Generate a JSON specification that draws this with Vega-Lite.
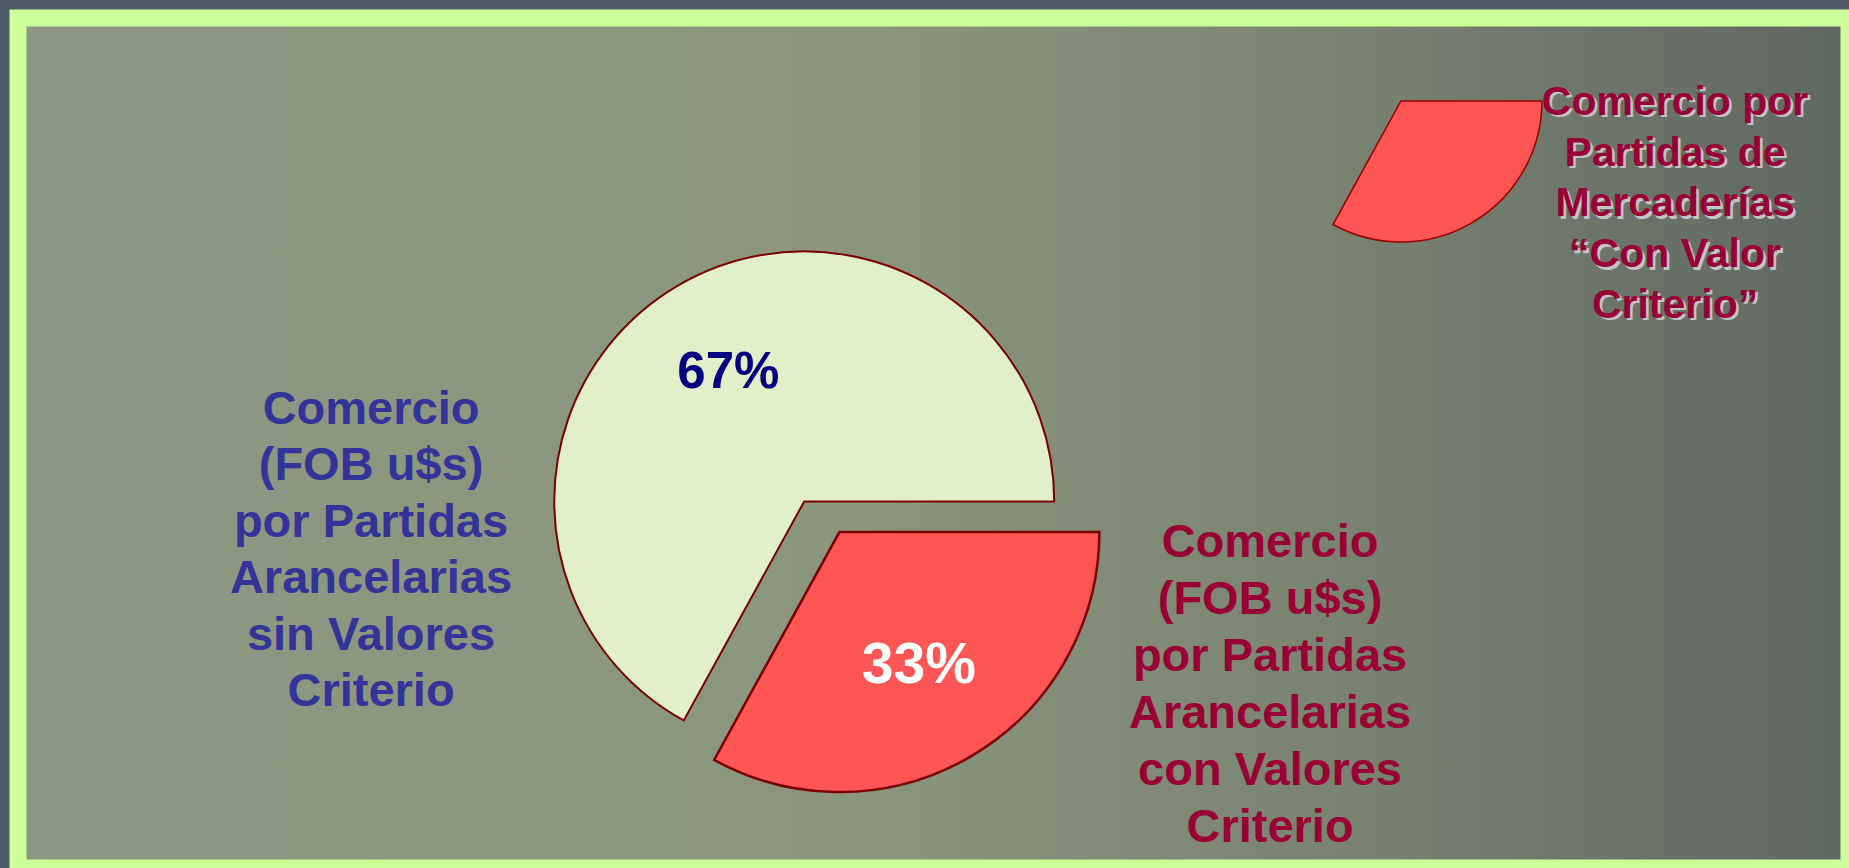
{
  "$schema": "https://vega.github.io/schema/vega-lite/v6.json",
  "width": 1831,
  "height": 850,
  "autosize": {"type": "none"},
  "padding": {"left": 18, "top": 18, "right": 0, "bottom": 0},
  "background": "#4d5c68",
  "config": {
    "view": {
      "fill": {"gradient": "linear", "x1": 0, "y1": 0, "x2": 1, "y2": 0,
        "stops": [
          {"offset": 0, "color": "#8c9882"},
          {"offset": 0.45, "color": "#8b967d"},
          {"offset": 0.75, "color": "#78816f"},
          {"offset": 1, "color": "#5f6762"}
        ]},
      "stroke": "#ccff99",
      "strokeWidth": 17
    }
  },
  "data": {
    "values": [
      {"grupo": "con", "valor": 33, "porcentaje": "33%", "descripcion": "Comercio\n(FOB u$s)\npor Partidas\nArancelarias\ncon Valores\nCriterio"},
      {"grupo": "sin", "valor": 67, "porcentaje": "67%", "descripcion": "Comercio\n(FOB u$s)\npor Partidas\nArancelarias\nsin Valores\nCriterio"}
    ]
  },
  "layer": [
    {
      "mark": {"type": "arc", "outerRadius": 250, "stroke": "#7a0000", "strokeWidth": 2},
      "encoding": {
        "x": {"datum": 42.94, "type": "quantitative", "scale": {"domain": [0, 100], "nice": false, "zero": false}, "axis": null},
        "y": {"datum": 56.87, "type": "quantitative", "scale": {"domain": [0, 100], "nice": false, "zero": false, "reverse": true}, "axis": null},
        "theta": {"field": "valor", "type": "quantitative", "stack": true, "scale": {"domain": [0, 100], "range": [1.5708, 7.854]}},
        "order": {"field": "grupo", "sort": "ascending"},
        "fill": {"value": "#e1f0c9"},
        "opacity": {"condition": {"test": "datum.grupo === 'sin'", "value": 1}, "value": 0}
      }
    },
    {
      "mark": {"type": "arc", "outerRadius": 260, "stroke": "#7a0000", "strokeWidth": 2.5},
      "encoding": {
        "x": {"datum": 44.86, "type": "quantitative", "scale": {"domain": [0, 100], "nice": false, "zero": false}, "axis": null},
        "y": {"datum": 60.48, "type": "quantitative", "scale": {"domain": [0, 100], "nice": false, "zero": false, "reverse": true}, "axis": null},
        "theta": {"field": "valor", "type": "quantitative", "stack": true, "scale": {"domain": [0, 100], "range": [1.5708, 7.854]}},
        "order": {"field": "grupo", "sort": "ascending"},
        "fill": {"value": "#ff5555"},
        "opacity": {"condition": {"test": "datum.grupo === 'con'", "value": 1}, "value": 0}
      }
    },
    {
      "mark": {"type": "arc", "outerRadius": 141, "stroke": "#990000", "strokeWidth": 1.5},
      "encoding": {
        "x": {"datum": 75.53, "type": "quantitative", "scale": {"domain": [0, 100], "nice": false, "zero": false}, "axis": null},
        "y": {"datum": 9.76, "type": "quantitative", "scale": {"domain": [0, 100], "nice": false, "zero": false, "reverse": true}, "axis": null},
        "theta": {"field": "valor", "type": "quantitative", "stack": true, "scale": {"domain": [0, 100], "range": [1.5708, 7.854]}},
        "order": {"field": "grupo", "sort": "ascending"},
        "fill": {"value": "#ff5555"},
        "opacity": {"condition": {"test": "datum.grupo === 'con'", "value": 1}, "value": 0}
      }
    },
    {
      "mark": {"type": "text", "radius": 149, "font": "Liberation Sans", "fontWeight": "bold", "fontSize": 51, "align": "center", "baseline": "middle", "fill": "#000080"},
      "encoding": {
        "x": {"datum": 42.94, "type": "quantitative", "scale": {"domain": [0, 100], "nice": false, "zero": false}, "axis": null},
        "y": {"datum": 56.87, "type": "quantitative", "scale": {"domain": [0, 100], "nice": false, "zero": false, "reverse": true}, "axis": null},
        "theta": {"field": "valor", "type": "quantitative", "stack": true, "scale": {"domain": [0, 100], "range": [1.5708, 7.854]}},
        "order": {"field": "grupo", "sort": "ascending"},
        "text": {"field": "porcentaje"},
        "opacity": {"condition": {"test": "datum.grupo === 'sin'", "value": 1}, "value": 0}
      }
    },
    {
      "mark": {"type": "text", "radius": 156, "font": "Liberation Sans", "fontWeight": "bold", "fontSize": 57, "align": "center", "baseline": "middle", "fill": "#ffffff"},
      "encoding": {
        "x": {"datum": 44.86, "type": "quantitative", "scale": {"domain": [0, 100], "nice": false, "zero": false}, "axis": null},
        "y": {"datum": 60.48, "type": "quantitative", "scale": {"domain": [0, 100], "nice": false, "zero": false, "reverse": true}, "axis": null},
        "theta": {"field": "valor", "type": "quantitative", "stack": true, "scale": {"domain": [0, 100], "range": [1.5708, 7.854]}},
        "order": {"field": "grupo", "sort": "ascending"},
        "text": {"field": "porcentaje"},
        "opacity": {"condition": {"test": "datum.grupo === 'con'", "value": 1}, "value": 0}
      }
    },
    {
      "transform": [{"filter": "datum.grupo === 'sin'"}],
      "mark": {"type": "text", "lineBreak": "\n", "lineHeight": 56.5, "font": "Liberation Sans", "fontWeight": "bold", "fontSize": 47, "align": "center", "baseline": "alphabetic", "fill": "#333399"},
      "encoding": {
        "x": {"datum": 19.28, "type": "quantitative", "scale": {"domain": [0, 100], "nice": false, "zero": false}, "axis": null},
        "y": {"datum": 47.76, "type": "quantitative", "scale": {"domain": [0, 100], "nice": false, "zero": false, "reverse": true}, "axis": null},
        "text": {"field": "descripcion"}
      }
    },
    {
      "transform": [{"filter": "datum.grupo === 'con'"}],
      "mark": {"type": "text", "lineBreak": "\n", "lineHeight": 57, "font": "Liberation Sans", "fontWeight": "bold", "fontSize": 47, "align": "center", "baseline": "alphabetic", "fill": "#990033"},
      "encoding": {
        "x": {"datum": 68.38, "type": "quantitative", "scale": {"domain": [0, 100], "nice": false, "zero": false}, "axis": null},
        "y": {"datum": 63.41, "type": "quantitative", "scale": {"domain": [0, 100], "nice": false, "zero": false, "reverse": true}, "axis": null},
        "text": {"field": "descripcion"}
      }
    },
    {
      "transform": [{"filter": "datum.grupo === 'con'"}],
      "mark": {"type": "text", "lineHeight": 50.75, "font": "Liberation Sans", "fontWeight": "bold", "fontSize": 41, "align": "center", "baseline": "alphabetic", "fill": "#c4c4c4", "dx": 2.5, "dy": 2.5},
      "encoding": {
        "x": {"datum": 90.5, "type": "quantitative", "scale": {"domain": [0, 100], "nice": false, "zero": false}, "axis": null},
        "y": {"datum": 11.41, "type": "quantitative", "scale": {"domain": [0, 100], "nice": false, "zero": false, "reverse": true}, "axis": null},
        "text": {"value": ["Comercio por", "Partidas de", "Mercaderías", "“Con Valor", "Criterio”"]}
      }
    },
    {
      "transform": [{"filter": "datum.grupo === 'con'"}],
      "mark": {"type": "text", "lineHeight": 50.75, "font": "Liberation Sans", "fontWeight": "bold", "fontSize": 41, "align": "center", "baseline": "alphabetic", "fill": "#990033"},
      "encoding": {
        "x": {"datum": 90.5, "type": "quantitative", "scale": {"domain": [0, 100], "nice": false, "zero": false}, "axis": null},
        "y": {"datum": 11.41, "type": "quantitative", "scale": {"domain": [0, 100], "nice": false, "zero": false, "reverse": true}, "axis": null},
        "text": {"value": ["Comercio por", "Partidas de", "Mercaderías", "“Con Valor", "Criterio”"]}
      }
    }
  ]
}
